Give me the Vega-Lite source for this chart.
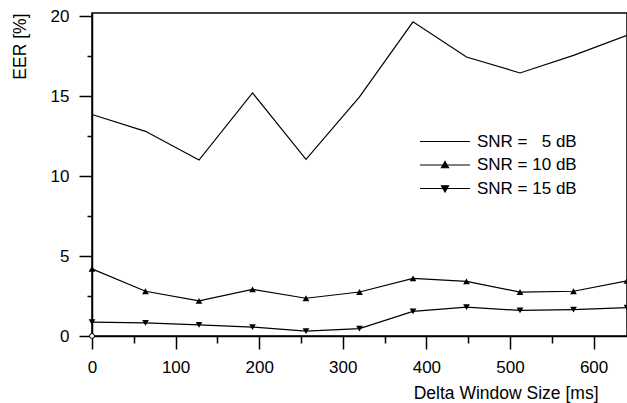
{
  "$schema": "https://vega.github.io/schema/vega-lite/v6.json",
  "width": 535,
  "height": 323,
  "autosize": "none",
  "padding": {"left": 92, "top": 13, "right": 0, "bottom": 67},
  "background": "white",
  "config": {
    "font": "Liberation Sans",
    "view": {"stroke": "black", "strokeWidth": 1.5},
    "axis": {
      "domainColor": "black",
      "domainWidth": 1.5,
      "tickColor": "black",
      "tickWidth": 1.5,
      "grid": false,
      "labelFont": "Liberation Sans",
      "labelFontSize": 17,
      "labelColor": "black",
      "titleFont": "Liberation Sans",
      "titleFontSize": 17.5,
      "titleFontWeight": "normal",
      "titleColor": "black"
    }
  },
  "data": {
    "values": [
      {"x": 0, "eer": 13.85, "snr": 5},
      {"x": 64, "eer": 12.8, "snr": 5},
      {"x": 128, "eer": 11.0, "snr": 5},
      {"x": 192, "eer": 15.2, "snr": 5},
      {"x": 256, "eer": 11.05, "snr": 5},
      {"x": 320, "eer": 14.95, "snr": 5},
      {"x": 384, "eer": 19.65, "snr": 5},
      {"x": 448, "eer": 17.45, "snr": 5},
      {"x": 512, "eer": 16.45, "snr": 5},
      {"x": 576, "eer": 17.55, "snr": 5},
      {"x": 640, "eer": 18.8, "snr": 5},
      {"x": 0, "eer": 4.2, "snr": 10},
      {"x": 64, "eer": 2.8, "snr": 10},
      {"x": 128, "eer": 2.2, "snr": 10},
      {"x": 192, "eer": 2.92, "snr": 10},
      {"x": 256, "eer": 2.36, "snr": 10},
      {"x": 320, "eer": 2.75, "snr": 10},
      {"x": 384, "eer": 3.6, "snr": 10},
      {"x": 448, "eer": 3.42, "snr": 10},
      {"x": 512, "eer": 2.75, "snr": 10},
      {"x": 576, "eer": 2.8, "snr": 10},
      {"x": 640, "eer": 3.45, "snr": 10},
      {"x": 0, "eer": 0.87, "snr": 15},
      {"x": 64, "eer": 0.82, "snr": 15},
      {"x": 128, "eer": 0.7, "snr": 15},
      {"x": 192, "eer": 0.56, "snr": 15},
      {"x": 256, "eer": 0.31, "snr": 15},
      {"x": 320, "eer": 0.46, "snr": 15},
      {"x": 384, "eer": 1.54, "snr": 15},
      {"x": 448, "eer": 1.8, "snr": 15},
      {"x": 512, "eer": 1.6, "snr": 15},
      {"x": 576, "eer": 1.65, "snr": 15},
      {"x": 640, "eer": 1.77, "snr": 15}
    ]
  },
  "encoding": {
    "x": {
      "field": "x",
      "type": "quantitative",
      "scale": {"domain": [0, 640], "nice": false, "zero": false},
      "axis": {
        "title": "Delta Window Size [ms]",
        "values": [0, 50, 100, 150, 200, 250, 300, 350, 400, 450, 500, 550, 600],
        "labelExpr": "datum.value % 100 === 0 ? datum.label : ''",
        "tickSize": {"expr": "datum.value % 100 === 0 ? 13 : 7"},
        "labelPadding": 10,
        "labelFlush": false,
        "labelOverlap": false,
        "titleAnchor": null,
        "titleAlign": "right",
        "titleBaseline": "top",
        "titleX": 506,
        "titleY": 48
      }
    },
    "y": {
      "field": "eer",
      "type": "quantitative",
      "scale": {"domain": [0, 20.2], "nice": false},
      "axis": {
        "title": "EER [%]",
        "values": [0, 2.5, 5, 7.5, 10, 12.5, 15, 17.5, 20],
        "labelExpr": "datum.value % 5 === 0 ? datum.label : ''",
        "tickSize": {"expr": "datum.value % 5 === 0 ? 13 : 5"},
        "labelPadding": 10,
        "labelFlush": false,
        "labelOverlap": false,
        "titleAnchor": null,
        "titleAngle": 270,
        "titleAlign": "right",
        "titleBaseline": "middle",
        "titleX": -72,
        "titleY": 0
      }
    }
  },
  "layer": [
    {
      "mark": {"type": "line", "strokeWidth": 1.2},
      "encoding": {
        "color": {
          "field": "snr",
          "type": "nominal",
          "scale": {"domain": [5, 10, 15], "range": ["black", "black", "black"]},
          "legend": {
            "title": null,
            "orient": "none",
            "legendX": 364,
            "legendY": 120,
            "padding": 0,
            "symbolSize": 100,
            "symbolStrokeWidth": 1.2,
            "labelOffset": 4,
            "rowPadding": 5.5,
            "labelFont": "Liberation Sans",
            "labelFontSize": 17,
            "labelColor": "black",
            "labelExpr": "'SNR = ' + (datum.label == '5' ? '\u2007' : '') + datum.label + ' dB'",
            "encode": {
              "symbols": {
                "update": {
                  "shape": {"signal": "datum.value == 10 ? 'M-8.9,0H1.1M-3.9,-0.7L-3.2,0.55L-4.6,0.55Z' : (datum.value == 15 ? 'M-8.9,0H1.1M-3.9,0.7L-3.2,-0.55L-4.6,-0.55Z' : 'M-8.9,0H1.1')"},
                  "fill": {"value": "black"},
                  "stroke": {"value": "black"},
                  "strokeWidth": {"value": 1.2},
                  "opacity": {"value": 1}
                }
              }
            }
          }
        }
      }
    },
    {
      "transform": [{"filter": "datum.snr == 10"}],
      "mark": {"type": "point", "shape": "triangle-up", "filled": true, "size": 45, "color": "black", "opacity": 1}
    },
    {
      "transform": [{"filter": "datum.snr == 15"}],
      "mark": {"type": "point", "shape": "triangle-down", "filled": true, "size": 45, "color": "black", "opacity": 1}
    },
    {
      "data": {"values": [{"x": 0, "eer": 0}]},
      "mark": {"type": "point", "filled": true, "fill": "white", "stroke": "black", "strokeWidth": 1, "size": 25, "opacity": 1}
    }
  ]
}
